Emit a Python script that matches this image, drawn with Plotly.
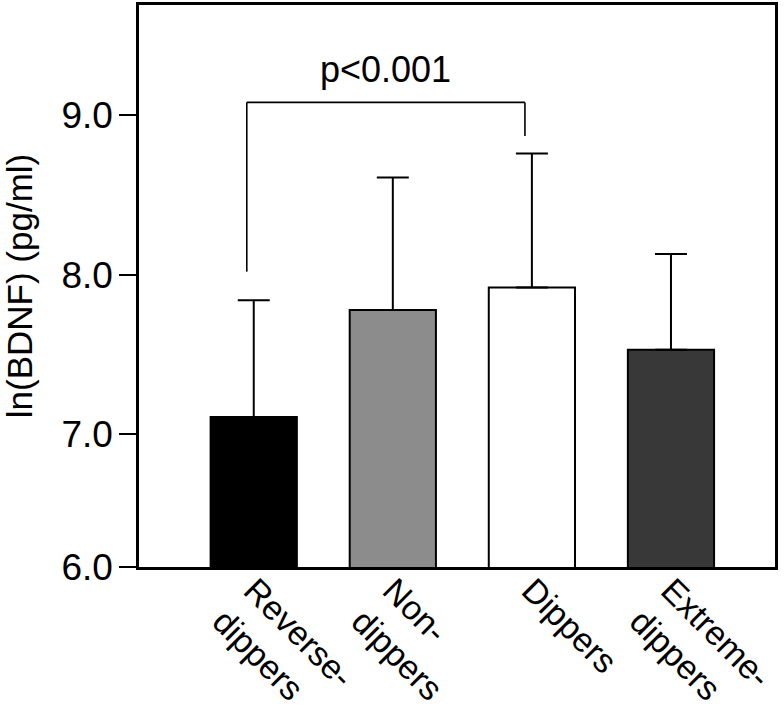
import plotly.graph_objects as go

# ---- data ----
categories = ["Reverse-<br>dippers", "Non-<br>dippers", "Dippers", "Extreme-<br>dippers"]
means = [7.11, 7.78, 7.92, 7.53]
err_upper = [0.73, 0.83, 0.84, 0.60]
bar_colors = ["#000000", "#8c8c8c", "#ffffff", "#383838"]

y_tick_vals = [6.17, 7.0, 8.0, 9.0]
y_tick_text = ["6.0", "7.0", "8.0", "9.0"]
y_range = [6.17, 9.69]
x_range = [-0.825, 3.748]

p_text = "p<0.001"
bracket_from, bracket_to = 0, 2      # category indices compared
bracket_top = 9.08
bracket_gap_left = 0.18
bracket_gap_right = 0.11
bracket_shift = -0.05

FONT = "Liberation Sans, Arial, sans-serif"

x_idx = list(range(len(categories)))

fig = go.Figure()
fig.add_trace(go.Bar(
    x=x_idx, y=means,
    width=0.62,
    marker=dict(color=bar_colors, line=dict(color="#000000", width=2)),
    error_y=dict(type="data", symmetric=False, array=err_upper,
                 arrayminus=[0] * len(means), color="#000000",
                 thickness=2, width=16),
    showlegend=False,
))

# significance bracket
xl = bracket_from + bracket_shift
xr = bracket_to + bracket_shift
yl = means[bracket_from] + err_upper[bracket_from] + bracket_gap_left
yr = means[bracket_to] + err_upper[bracket_to] + bracket_gap_right
line_style = dict(color="#000000", width=1.6)
fig.add_shape(type="line", xref="x", yref="y", x0=xl, x1=xl, y0=yl, y1=bracket_top, line=line_style)
fig.add_shape(type="line", xref="x", yref="y", x0=xl, x1=xr, y0=bracket_top, y1=bracket_top, line=line_style)
fig.add_shape(type="line", xref="x", yref="y", x0=xr, x1=xr, y0=bracket_top, y1=yr, line=line_style)
fig.add_annotation(x=(xl + xr) / 2, y=bracket_top, xref="x", yref="y",
                   text=p_text, showarrow=False, yanchor="bottom", yshift=10,
                   font=dict(family=FONT, size=36, color="#000000"))

fig.update_layout(
    width=784, height=710,
    margin=dict(l=139, r=9, t=5, b=143),
    plot_bgcolor="#ffffff", paper_bgcolor="#ffffff",
    font=dict(family=FONT, color="#000000"),
    xaxis=dict(range=x_range, tickmode="array", tickvals=x_idx, ticktext=categories,
               tickangle=45, tickfont=dict(size=34, family=FONT), automargin=False,
               ticklabelstandoff=-13,
               showline=True, linecolor="#000000", linewidth=2.5, mirror=True,
               showgrid=False, zeroline=False, ticks=""),
    yaxis=dict(range=y_range, tickmode="array", tickvals=y_tick_vals, ticktext=y_tick_text,
               tickfont=dict(size=37, family=FONT), ticks="outside", ticklen=17,
               tickwidth=2, tickcolor="#000000", automargin=False,
               ticklabelstandoff=-1,
               showline=True, linecolor="#000000", linewidth=2.5, mirror=True,
               showgrid=False, zeroline=False,
               title=dict(text="ln(BDNF) (pg/ml)", font=dict(size=35, family=FONT), standoff=24)),
)

fig.write_html("out.html", config={"displayModeBar": False},
               post_script="document.body.style.margin='0';document.body.style.padding='0';")
